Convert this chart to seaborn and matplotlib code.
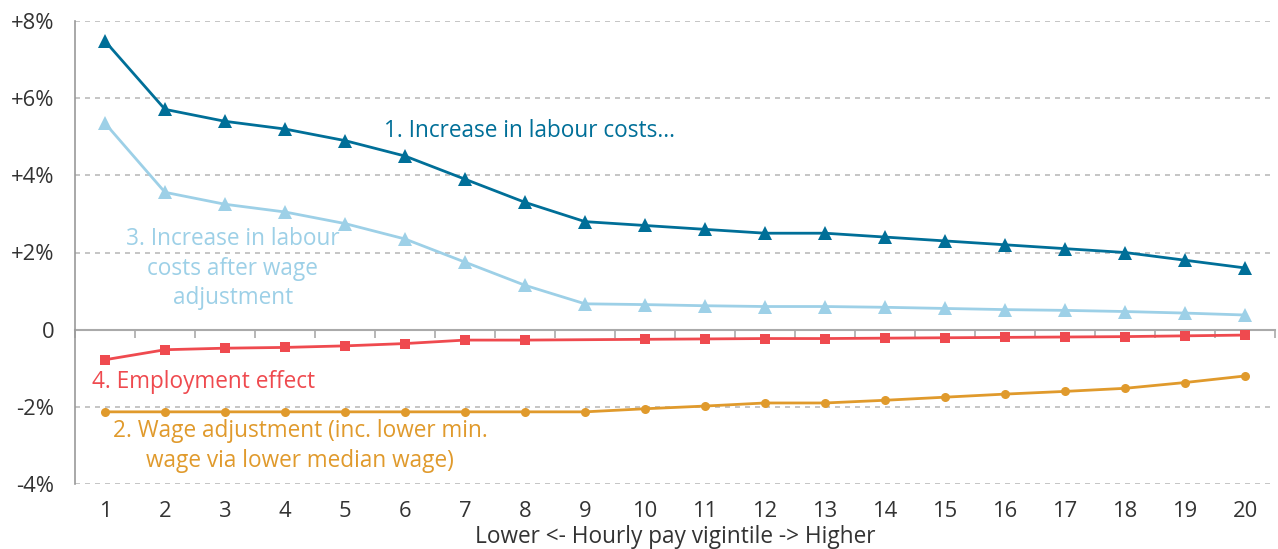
import matplotlib
matplotlib.use("Agg")
import matplotlib.pyplot as plt
import seaborn as sns
import pandas as pd
import numpy as np

vigintiles = list(range(1, 21))
labour_costs = [7.48, 5.71, 5.4, 5.2, 4.9, 4.5, 3.9, 3.3, 2.8, 2.7,
                2.6, 2.5, 2.5, 2.4, 2.3, 2.2, 2.1, 2.0, 1.8, 1.6]
labour_costs_adj = [5.35, 3.56, 3.25, 3.05, 2.75, 2.35, 1.75, 1.15, 0.67, 0.65,
                    0.62, 0.6, 0.6, 0.58, 0.55, 0.52, 0.5, 0.47, 0.43, 0.38]
employment = [-0.78, -0.52, -0.48, -0.46, -0.42, -0.36, -0.27, -0.27, -0.26, -0.25,
              -0.24, -0.23, -0.23, -0.22, -0.21, -0.2, -0.19, -0.18, -0.16, -0.14]
wage_adj = [-2.13, -2.13, -2.13, -2.13, -2.13, -2.13, -2.13, -2.13, -2.13, -2.05,
            -1.98, -1.9, -1.9, -1.83, -1.75, -1.67, -1.6, -1.52, -1.37, -1.2]

yticks = [-4, -2, 0, 2, 4, 6, 8]
ytick_labels = ["-4%", "-2%", "0", "+2%", "+4%", "+6%", "+8%"]
xlabel = "Lower <- Hourly pay vigintile -> Higher"

c_dark = "#006f98"
c_light = "#9dd0e7"
c_red = "#ef4a4f"
c_orange = "#e09a2c"

FS = 16.3
TFS = 15.8

sns.set_theme(style="white")
plt.rcParams["font.family"] = ["Open Sans", "DejaVu Sans"]
plt.rcParams["font.weight"] = "normal"

fig = plt.figure(figsize=(12.78, 5.49), dpi=100)
ax = fig.add_axes([75 / 1278, 65 / 549, 1200 / 1278, 463 / 549])

df = pd.DataFrame({"x": vigintiles, "s1": labour_costs, "s3": labour_costs_adj,
                   "s4": employment, "s2": wage_adj})

sns.lineplot(data=df, x="x", y="s2", ax=ax, color=c_orange, marker="o",
             markersize=6.5, markeredgewidth=0, linewidth=2)
sns.lineplot(data=df, x="x", y="s4", ax=ax, color=c_red, marker="s",
             markersize=7, markeredgewidth=0, linewidth=2)
ax.lines[-1].set_markevery([i for i in range(20) if i != 8])
sns.lineplot(data=df, x="x", y="s3", ax=ax, color=c_light, marker="^",
             markersize=9.5, markeredgewidth=0, linewidth=2)
sns.lineplot(data=df, x="x", y="s1", ax=ax, color=c_dark, marker="^",
             markersize=9.5, markeredgewidth=0, linewidth=2)

ax.set_xlim(0.5, 20.5)
ax.set_ylim(-4, 8)
ax.set_xticks(vigintiles)
ax.set_xticklabels([str(v) for v in vigintiles])
ax.set_yticks(yticks)
ax.set_yticklabels(ytick_labels)
ax.tick_params(axis="x", length=0, pad=12, labelsize=TFS, labelcolor="#333333")
ax.tick_params(axis="y", length=8, width=1.2, color="#aaaaaa", pad=7,
               labelsize=TFS, labelcolor="#333333")
ax.set_xlabel(xlabel, fontsize=FS, color="#333333", va="center")
ax.xaxis.set_label_coords(0.5, (484 - 537) / 463)
ax.set_ylabel("")

for y in yticks:
    if y != 0:
        ax.axhline(y, color="#bbbbbb", lw=1.2, ls=(0, (3, 3)), zorder=0)

for s in ["top", "right", "bottom"]:
    ax.spines[s].set_visible(False)
ax.spines["left"].set_color("#999999")
ax.spines["left"].set_linewidth(1.2)

sec = ax.secondary_xaxis(1 / 3)
sec.set_xticks([v + 0.5 for v in range(0, 21)])
sec.set_xticklabels([])
sec.tick_params(axis="x", length=6, width=1.2, color="#aaaaaa", direction="out")
sec.spines["bottom"].set_color("#aaaaaa")
sec.spines["bottom"].set_linewidth(1.5)
for s in ["top", "left", "right"]:
    if s in sec.spines:
        sec.spines[s].set_visible(False)

ax.text(8.07, 5.15, "1. Increase in labour costs...", color=c_dark,
        fontsize=FS, ha="center", va="center")
ax.text(3.13, 1.58, "3. Increase in labour\ncosts after wage\nadjustment",
        color=c_light, fontsize=FS, ha="center", va="center", linespacing=1.3)
ax.text(0.78, -1.36, "4. Employment effect", color=c_red, fontsize=FS,
        ha="left", va="center")
ax.text(4.25, -3.02, "2. Wage adjustment (inc. lower min.\nwage via lower median wage)",
        color=c_orange, fontsize=FS, ha="center", va="center", linespacing=1.3)

fig.savefig("out.png", dpi=100)
